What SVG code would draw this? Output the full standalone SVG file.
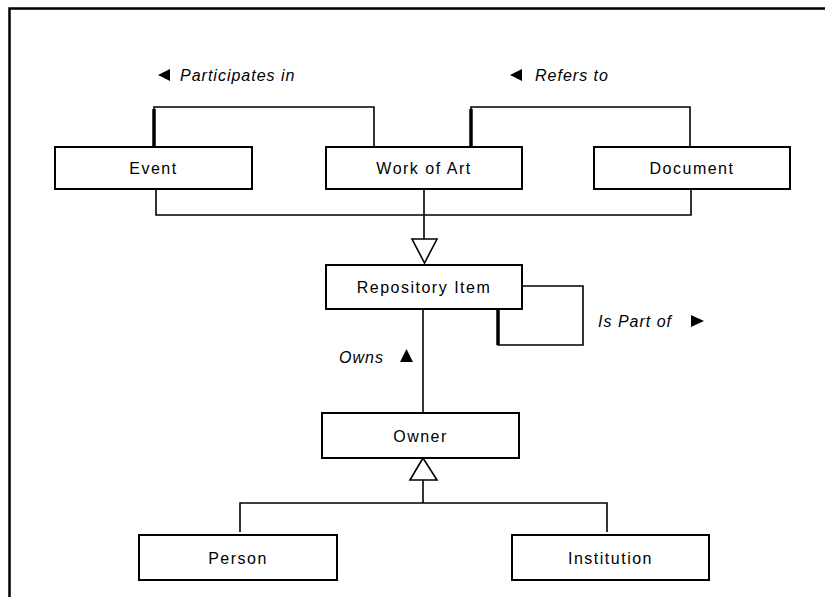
<svg xmlns="http://www.w3.org/2000/svg" width="825" height="597" viewBox="0 0 825 597">
<style>
.box{fill:#fff;stroke:#000;stroke-width:2}
.ln{fill:none;stroke:#000;stroke-width:1.6}
.thk{fill:none;stroke:#000;stroke-width:3.5}
.tri{fill:#fff;stroke:#000;stroke-width:1.6}
.arr{fill:#000}
text{font-family:"Liberation Sans",Arial,sans-serif;font-size:16px;letter-spacing:1.5px;fill:#000}
.t{text-anchor:middle}
.lbl{font-style:italic;letter-spacing:1px}
</style>
<rect width="825" height="597" fill="#fff"/>
<path d="M9.5 597 V8.5 H825" fill="none" stroke="#000" stroke-width="2.5"/>
<g id="connectors">
<path class="ln" d="M154 147 V107 H374 V147"/>
<path class="thk" d="M154 147 V109"/>
<path class="ln" d="M471 147 V107 H690 V147"/>
<path class="thk" d="M471 147 V109"/>
<path class="ln" d="M156 189 V215 H691 V189"/>
<path class="ln" d="M424 189 V239"/>
<polygon class="tri" points="412,239 437,239 424.5,263"/>
<path class="ln" d="M522 286 H583 V345 H498 V309"/>
<path class="thk" d="M498 345 V309"/>
<path class="ln" d="M423 309 V413"/>
<polygon class="tri" points="423,458 410,480 437,480"/>
<path class="ln" d="M423 480 V503"/>
<path class="ln" d="M240 532 V503 H607 V532"/>
</g>
<g id="labels">
<polygon class="arr" points="158,75 170,69 170,81"/>
<text class="lbl" x="180" y="81">Participates in</text>
<polygon class="arr" points="510,75 522,69 522,81"/>
<text class="lbl" x="535" y="81">Refers to</text>
<text class="lbl" x="598" y="327">Is Part of</text>
<polygon class="arr" points="704,321 691,315 691,327"/>
<text class="lbl" x="339" y="363">Owns</text>
<polygon class="arr" points="406.5,349 400,362 413,362"/>
</g>
<g id="event"><rect class="box" x="55" y="147" width="197" height="42"/><text class="t" x="153.5" y="174">Event</text></g>
<g id="workofart"><rect class="box" x="326" y="147" width="196" height="42"/><text class="t" x="424" y="174">Work of Art</text></g>
<g id="document"><rect class="box" x="594" y="147" width="196" height="42"/><text class="t" x="692" y="174">Document</text></g>
<g id="repository"><rect class="box" x="326" y="265" width="196" height="44"/><text class="t" x="424" y="293">Repository Item</text></g>
<g id="owner"><rect class="box" x="322" y="413" width="197" height="45"/><text class="t" x="420.5" y="442">Owner</text></g>
<g id="person"><rect class="box" x="139" y="535" width="198" height="45"/><text class="t" x="238" y="564">Person</text></g>
<g id="institution"><rect class="box" x="512" y="535" width="197" height="45"/><text class="t" x="610.5" y="564">Institution</text></g>
</svg>
